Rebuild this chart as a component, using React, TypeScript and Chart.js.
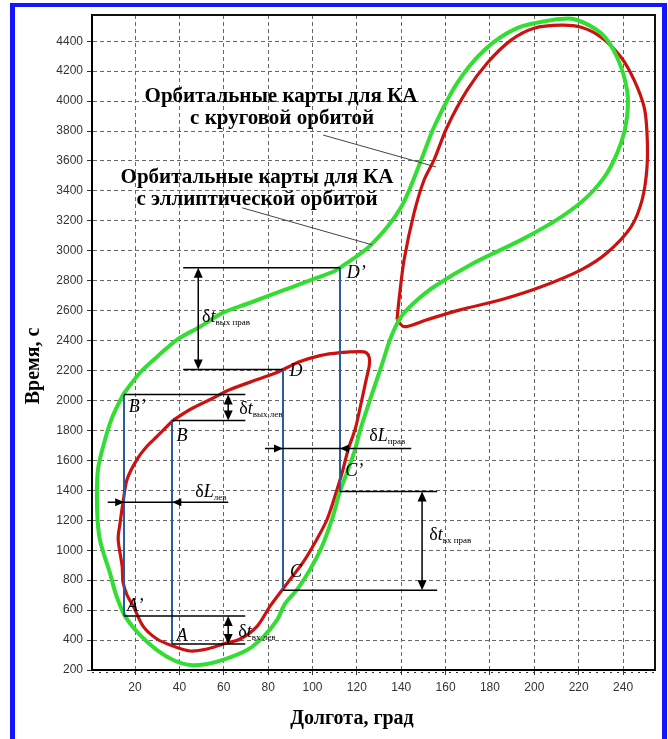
import React, { useEffect, useRef } from 'react';
import { Chart, registerables } from 'chart.js';

Chart.register(...registerables);

// ---------- axes ----------
const X_TICKS = [20, 40, 60, 80, 100, 120, 140, 160, 180, 200, 220, 240];
const Y_TICKS = [200, 400, 600, 800, 1000, 1200, 1400, 1600, 1800, 2000, 2200, 2400, 2600, 2800, 3000, 3200, 3400, 3600, 3800, 4000, 4200, 4400];
const X_TITLE = 'Долгота, град';
const Y_TITLE = 'Время, с';

// ---------- green curve: elliptical orbit (longitude, time) ----------
const GREEN_LON = [14.6, 22.3, 30.0, 39.0, 49.3, 59.7, 71.9, 84.0, 90.0, 99.8, 109.3, 112.4, 126.4, 140.0, 149.0, 154.8, 165.2, 177.4, 192.2, 207.6, 218.0, 230.1, 237.3, 241.8, 241.8, 239.1, 232.8, 223.8, 212.2, 194.1, 172.9, 154.8, 145.8, 140.0, 135.5, 131.0, 126.0, 121.6, 119.2, 115.6, 112.4, 108.8, 104.3, 99.0, 93.2, 87.5, 84.0, 77.7, 70.5, 59.7, 52.5, 44.8, 37.2, 29.9, 22.3, 15.5, 11.5, 8.7, 4.2, 2.9, 3.3, 6.5, 9.7, 14.6];
const GREEN_TIME = [2040, 2187, 2293, 2407, 2493, 2587, 2653, 2720, 2753, 2807, 2860, 2887, 3040, 3293, 3607, 3827, 4120, 4340, 4487, 4540, 4547, 4453, 4293, 4073, 3893, 3720, 3520, 3360, 3227, 3073, 2920, 2760, 2653, 2560, 2427, 2227, 2007, 1807, 1673, 1520, 1393, 1207, 1027, 873, 740, 640, 533, 420, 333, 267, 240, 233, 267, 333, 433, 560, 700, 847, 1067, 1273, 1540, 1740, 1887, 2040];

// ---------- red curve: circular orbit, lower loop ----------
const RED_LOW_LON = [37.1, 44.8, 53.9, 62.9, 75.1, 84.0, 86.8, 94.4, 103.4, 112.4, 121.5, 124.2, 125.6, 125.6, 124.2, 121.0, 119.2, 116.1, 113.4, 111.1, 106.6, 101.2, 95.8, 89.0, 80.9, 75.1, 67.4, 59.7, 52.5, 44.9, 37.2, 29.9, 23.6, 19.2, 16.4, 14.6, 14.2, 12.4, 13.3, 14.6, 16.4, 20.9, 25.3, 29.9, 37.1];
const RED_LOW_TIME = [1867, 1940, 2007, 2073, 2140, 2187, 2207, 2260, 2300, 2320, 2327, 2320, 2287, 2233, 2140, 1920, 1807, 1673, 1520, 1407, 1207, 1053, 920, 787, 627, 493, 407, 373, 340, 327, 360, 407, 493, 627, 700, 787, 893, 1073, 1187, 1320, 1473, 1607, 1693, 1760, 1867];

// ---------- red curve: circular orbit, upper loop ----------
const RED_UP_LON = [138.1, 139.0, 141.3, 145.8, 150.3, 154.8, 160.7, 169.7, 178.7, 189.5, 199.9, 212.1, 221.1, 230.1, 239.1, 245.0, 249.5, 250.8, 250.8, 248.6, 243.6, 232.8, 221.1, 203.1, 185.0, 167.0, 151.6, 141.3, 138.1];
const RED_UP_TIME = [2540, 2673, 2940, 3253, 3473, 3607, 3827, 4073, 4253, 4407, 4487, 4507, 4493, 4427, 4293, 4140, 3960, 3787, 3560, 3340, 3160, 2987, 2873, 2760, 2673, 2607, 2540, 2493, 2540];

// ---------- construction marks ----------
// vertical blue lines through B', B, D, D'
const MARK_LON = [15.1, 36.8, 86.7, 112.4];
const MARK_TOP = [2040, 1867, 2207, 2887];
const MARK_BOTTOM = [560, 373, 733, 1393];
// horizontal black level lines
const LEVEL_TIME = [2040, 1867, 560, 373, 2887, 2207, 1393, 733];
const LEVEL_FROM = [15.1, 36.8, 15.1, 36.8, 41.7, 41.7, 112.4, 86.7];
const LEVEL_TO = [69.7, 69.7, 69.7, 69.7, 112.4, 86.7, 156.2, 156.2];
// vertical double arrows (δt)
const DT_LON = [48.5, 62.0, 62.0, 149.4];
const DT_FROM = [2887, 2040, 560, 1393];
const DT_TO = [2207, 1867, 373, 733];
// horizontal δL lines with inward arrows
const DL_TIME = [1320, 1680];
const DL_FROM = [7.7, 78.6];
const DL_TO = [62.0, 144.5];
const DL_TIP_A = [15.1, 86.7];
const DL_TIP_B = [36.8, 112.4];

// point labels
const PT_LABELS = ['A’', 'A', 'B’', 'B', 'D', 'D’', 'C’', 'C'];
const PT_LON = [20.1, 41.2, 21.0, 41.2, 92.6, 119.7, 118.8, 92.6];
const PT_TIME = [627, 427, 1953, 1760, 2193, 2853, 1527, 853];

// delta labels
const DELTA_MAIN = ['t', 't', 't', 'L', 'L', 't'];
const DELTA_SUB = ['вых прав', 'вых лев', 'вх лев', 'лев', 'прав', 'вх прав'];
const DELTA_LON = [50.2, 67.0, 66.5, 47.1, 125.6, 152.6];
const DELTA_TIME = [2567, 1953, 460, 1393, 1767, 1107];

// annotation titles
const NOTE_LINES = ['Орбитальные карты для КА', 'с круговой орбитой', 'Орбитальные карты для КА', 'с эллиптической орбитой'];
const NOTE_LON = [85.8, 86.3, 75.0, 75.0];
const NOTE_TIME = [4027, 3880, 3487, 3340];
const LEADER_FROM_LON = [104.8, 68.3];
const LEADER_FROM_TIME = [3773, 3287];
const LEADER_TO_LON = [155.7, 126.8];
const LEADER_TO_TIME = [3560, 3040];

const SERIF = '"Liberation Serif", "Times New Roman", serif';
const SANS = '"Liberation Sans", Arial, sans-serif';

const pts = (xs: number[], ys: number[]) => xs.map((x, i) => ({ x, y: ys[i] }));

function arrowHead(ctx: CanvasRenderingContext2D, tx: number, ty: number, dx: number, dy: number, len: number, half: number) {
  const bx = tx - dx * len;
  const by = ty - dy * len;
  const px = -dy;
  const py = dx;
  ctx.beginPath();
  ctx.moveTo(tx, ty);
  ctx.lineTo(bx + px * half, by + py * half);
  ctx.lineTo(bx - px * half, by - py * half);
  ctx.closePath();
  ctx.fill();
}

const framePlugin = {
  id: 'frame',
  beforeDatasetsDraw(chart: any) {
    const { ctx, chartArea: a } = chart;
    ctx.save();
    ctx.strokeStyle = '#111';
    ctx.lineWidth = 2;
    ctx.beginPath();
    ctx.moveTo(a.left, a.top);
    ctx.lineTo(a.right, a.top);
    ctx.lineTo(a.right, a.bottom);
    ctx.stroke();
    // dashed texture just under the bottom axis
    ctx.strokeStyle = '#333';
    ctx.lineWidth = 1;
    ctx.setLineDash([2, 5]);
    ctx.beginPath();
    ctx.moveTo(a.left, a.bottom + 2.5);
    ctx.lineTo(a.right, a.bottom + 2.5);
    ctx.stroke();
    ctx.restore();
  },
};

const overlayPlugin = {
  id: 'overlay',
  afterDatasetsDraw(chart: any) {
    const { ctx, scales } = chart;
    const X = (v: number) => scales.x.getPixelForValue(v);
    const Y = (v: number) => scales.y.getPixelForValue(v);
    ctx.save();

    // leader lines
    ctx.strokeStyle = '#444';
    ctx.lineWidth = 1;
    LEADER_FROM_LON.forEach((lx, i) => {
      ctx.beginPath();
      ctx.moveTo(X(lx), Y(LEADER_FROM_TIME[i]));
      ctx.lineTo(X(LEADER_TO_LON[i]), Y(LEADER_TO_TIME[i]));
      ctx.stroke();
    });

    // blue verticals
    ctx.strokeStyle = '#2a5b9c';
    ctx.lineWidth = 2;
    MARK_LON.forEach((mx, i) => {
      ctx.beginPath();
      ctx.moveTo(Math.round(X(mx)), Y(MARK_TOP[i]));
      ctx.lineTo(Math.round(X(mx)), Y(MARK_BOTTOM[i]));
      ctx.stroke();
    });

    // black level lines
    ctx.strokeStyle = '#000';
    ctx.lineWidth = 1.5;
    LEVEL_TIME.forEach((t, i) => {
      ctx.beginPath();
      ctx.moveTo(X(LEVEL_FROM[i]), Y(t));
      ctx.lineTo(X(LEVEL_TO[i]), Y(t));
      ctx.stroke();
    });

    // δt double arrows
    ctx.fillStyle = '#000';
    DT_LON.forEach((dx, i) => {
      const px = X(dx);
      const y1 = Y(DT_FROM[i]);
      const y2 = Y(DT_TO[i]);
      ctx.beginPath();
      ctx.moveTo(px, y1 + 6);
      ctx.lineTo(px, y2 - 6);
      ctx.stroke();
      arrowHead(ctx, px, y1, 0, -1, 10, 4.5);
      arrowHead(ctx, px, y2, 0, 1, 10, 4.5);
    });

    // δL lines
    DL_TIME.forEach((t, i) => {
      const py = Y(t);
      ctx.lineWidth = 1.5;
      ctx.beginPath();
      ctx.moveTo(X(DL_FROM[i]), py);
      ctx.lineTo(X(DL_TO[i]), py);
      ctx.stroke();
      arrowHead(ctx, X(DL_TIP_A[i]), py, 1, 0, 9, 4);
      arrowHead(ctx, X(DL_TIP_B[i]), py, -1, 0, 9, 4);
    });

    // point labels
    ctx.fillStyle = '#000';
    ctx.textAlign = 'center';
    ctx.textBaseline = 'middle';
    ctx.font = `italic 18px ${SERIF}`;
    PT_LABELS.forEach((s, i) => ctx.fillText(s, X(PT_LON[i]), Y(PT_TIME[i])));

    // delta labels
    ctx.textAlign = 'left';
    ctx.textBaseline = 'alphabetic';
    DELTA_MAIN.forEach((m, i) => {
      let px = X(DELTA_LON[i]);
      const base = Y(DELTA_TIME[i]) + 6;
      ctx.font = `18px ${SERIF}`;
      ctx.fillText('δ', px, base);
      px += ctx.measureText('δ').width;
      ctx.font = `italic 18px ${SERIF}`;
      ctx.fillText(m, px, base);
      px += ctx.measureText(m).width;
      ctx.font = `9px ${SERIF}`;
      ctx.fillText(DELTA_SUB[i], px, base + 3);
    });

    // annotation titles
    ctx.textAlign = 'center';
    ctx.textBaseline = 'middle';
    ctx.font = `bold 21px ${SERIF}`;
    NOTE_LINES.forEach((s, i) => ctx.fillText(s, X(NOTE_LON[i]), Y(NOTE_TIME[i])));

    // axis titles
    const a = chart.chartArea;
    ctx.font = `bold 20px ${SERIF}`;
    ctx.fillText(X_TITLE, a.left + 260, a.bottom + 49);
    ctx.save();
    ctx.translate(a.left - 58, a.top + 351);
    ctx.rotate(-Math.PI / 2);
    ctx.fillText(Y_TITLE, 0, 0);
    ctx.restore();

    ctx.restore();
  },
};

export default function App() {
  const ref = useRef<HTMLCanvasElement>(null);

  useEffect(() => {
    if (!ref.current) return;
    const lineDs = (data: any, color: string, width: number) => ({
      data,
      borderColor: color,
      backgroundColor: color,
      borderWidth: width,
      showLine: true,
      pointRadius: 0,
      tension: 0.3,
      fill: false,
    });
    const chart = new Chart(ref.current, {
      type: 'scatter',
      data: {
        datasets: [
          lineDs(pts(GREEN_LON, GREEN_TIME), '#33dd33', 4),
          lineDs(pts(RED_LOW_LON, RED_LOW_TIME), '#cc1111', 3.2),
          lineDs(pts(RED_UP_LON, RED_UP_TIME), '#cc1111', 3.2),
        ],
      },
      options: {
        responsive: false,
        animation: false,
        devicePixelRatio: 1,
        layout: { padding: { top: 15, right: 13, left: 0, bottom: 0 } },
        plugins: { legend: { display: false }, tooltip: { enabled: false } },
        scales: {
          x: {
            type: 'linear',
            min: 0.6,
            max: 254.4,
            afterBuildTicks: (s: any) => {
              s.ticks = X_TICKS.map((v) => ({ value: v }));
            },
            afterFit: (s: any) => {
              s.height = 69;
            },
            grid: { color: '#666', lineWidth: 1, tickLength: 5, tickColor: '#333', tickWidth: 1 },
            border: { color: '#000', width: 2, dash: [4, 3] },
            ticks: {
              font: { family: SANS, size: 12 },
              color: '#333',
              padding: 5,
              maxRotation: 0,
              autoSkip: false,
              callback: (v: any) => String(v),
            },
          },
          y: {
            type: 'linear',
            min: 200,
            max: 4575,
            afterBuildTicks: (s: any) => {
              s.ticks = Y_TICKS.map((v) => ({ value: v }));
            },
            afterFit: (s: any) => {
              s.width = 92;
            },
            grid: { color: '#666', lineWidth: 1, tickLength: 5, tickColor: '#333', tickWidth: 1 },
            border: { color: '#000', width: 2, dash: [4, 3] },
            ticks: {
              font: { family: SANS, size: 12 },
              color: '#333',
              padding: 4,
              autoSkip: false,
              callback: (v: any) => String(v),
            },
          },
        },
      },
      plugins: [framePlugin, overlayPlugin],
    } as any);
    return () => chart.destroy();
  }, []);

  return (
    <div style={{ position: 'fixed', left: 0, top: 0, width: 668, height: 739, background: '#fff', overflow: 'hidden' }}>
      <canvas ref={ref} width={668} height={739} style={{ position: 'absolute', left: 0, top: 0, width: 668, height: 739 }} />
      <div
        style={{
          position: 'absolute',
          left: 10,
          top: 3,
          width: 657,
          height: 800,
          boxSizing: 'border-box',
          borderLeft: '5px solid #1414ff',
          borderTop: '4px solid #1414ff',
          borderRight: '5px solid #1414ff',
          pointerEvents: 'none',
        }}
      />
    </div>
  );
}
